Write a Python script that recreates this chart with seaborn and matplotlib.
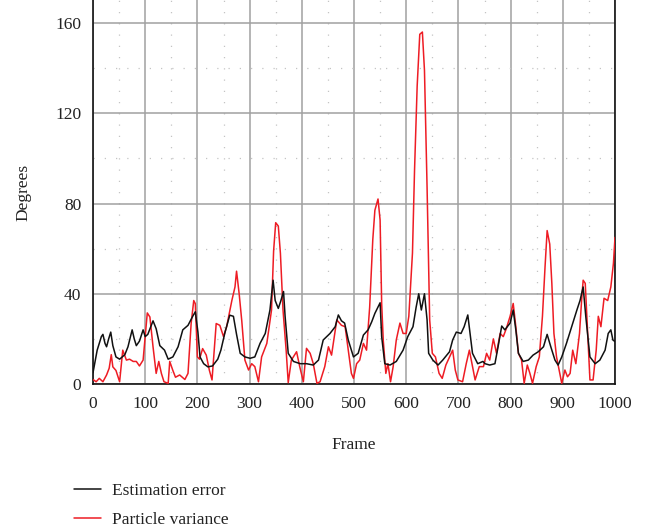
import numpy as np
import pandas as pd
import matplotlib
matplotlib.use("Agg")
import matplotlib.pyplot as plt
from matplotlib.ticker import MultipleLocator
import seaborn as sns

# ---- data ----
err_frames = [0, 8, 16, 19, 23, 26, 30, 34, 38, 44, 51, 56, 61, 67, 75, 79, 83, 89, 96, 100,
              105, 110, 115, 121, 128, 137, 144, 153, 163, 172, 182, 191, 196, 201, 205, 212,
              220, 229, 239, 245, 253, 262, 269, 275, 282, 291, 301, 310, 320, 330, 339, 345,
              349, 355, 360, 365, 368, 374, 384, 397, 409, 422, 432, 441, 454, 464, 470, 476,
              482, 489, 495, 499, 508, 518, 527, 534, 540, 550, 553, 559, 569, 581, 594, 603,
              613, 619, 624, 629, 635, 640, 643, 651, 661, 670, 683, 689, 696, 705, 711, 718,
              722, 727, 737, 747, 751, 760, 770, 776, 783, 789, 799, 805, 810, 815, 824, 834,
              843, 853, 863, 870, 877, 885, 891, 898, 907, 917, 927, 933, 939, 944, 952, 962,
              971, 981, 987, 992, 996, 1000]
err_values = [5, 15, 21, 22, 18, 16.5, 20, 23, 17, 12, 11, 12, 13, 16.5, 24, 20, 17, 19, 24, 21,
              22, 25, 28, 24.5, 17, 15, 11, 12, 16.5, 24, 26, 30, 32, 23, 12, 9,
              7.6, 8, 11, 15, 23, 30.5, 30, 22, 13.6, 12, 11.4, 12, 18, 22.4, 32.8, 46,
              37, 33.5, 37, 41, 30, 13.6, 10, 9, 9, 8.4, 10.6, 19.5, 22.4, 25.4, 30.6, 28,
              27, 19.5, 15, 12, 13.6, 21.7, 24, 27.6, 31.3, 36, 21, 9, 8.4, 10, 15, 21,
              25.4, 34, 40, 32.8, 40, 28.4, 13.6, 10.6, 8.4, 10.6, 14.3, 19.5, 23, 22.4, 25.4, 30.6,
              23, 13.6, 9, 10, 9, 8.4, 9, 16.5, 25.7, 24, 27, 32.8, 24, 13.6, 10, 10.6,
              12.8, 14.3, 16.5, 22, 16.5, 10.6, 8.4, 12, 18, 25.4, 32.8, 37, 43, 30, 12, 9,
              10.6, 15, 22.4, 24, 19.5, 18.8]

var_frames = [0, 6, 12, 19, 26, 31, 35, 38, 44, 51, 57, 64, 70, 77, 83, 89, 96, 100, 104, 109,
              115, 121, 126, 131, 136, 144, 147, 153, 158, 166, 176, 182, 188, 193, 196, 200,
              204, 210, 217, 223, 228, 236, 243, 250, 256, 266, 272, 275, 280, 285, 291, 298,
              304, 310, 317, 323, 333, 342, 346, 350, 355, 359, 364, 370, 374, 380, 390, 396,
              403, 409, 416, 422, 429, 435, 444, 451, 457, 467, 476, 483, 489, 495, 499, 505,
              511, 518, 524, 530, 536, 540, 546, 550, 553, 556, 561, 565, 570, 575, 581, 588,
              594, 600, 605, 612, 616, 621, 626, 631, 635, 640, 645, 650, 656, 663, 669, 676,
              683, 689, 694, 699, 708, 715, 721, 727, 732, 740, 748, 754, 760, 767, 773, 780,
              786, 792, 799, 805, 810, 815, 821, 826, 832, 837, 842, 849, 855, 861, 866, 870,
              875, 879, 883, 888, 893, 898, 904, 909, 914, 919, 925, 932, 936, 939, 943, 947,
              952, 958, 964, 968, 973, 979, 986, 992, 997, 1000]
var_values = [2, 1, 2.5, 1, 4, 7, 13, 7.6, 6, 1, 15, 10.6, 11, 10, 10, 8, 10.6, 21, 31.5, 29.7,
              16.5, 4.7, 10, 4.7, 1, 0.3, 10, 6, 3, 4, 2, 4.7, 26.8, 37, 35.6, 12,
              11, 15.7, 12.8, 6, 1.8, 26.8, 26, 21, 25.4, 37, 43, 50, 40, 28, 10.6, 6.2,
              9, 7.7, 1, 12, 18, 32.8, 59, 71.5, 70, 58, 32.8, 15, 0.6, 10.6, 14.3, 7.7,
              1, 15.8, 13.6, 9, 0.3, 1, 7.7, 16.5, 12.8, 28.4, 26, 25.4, 15, 4.7, 2.5, 9,
              10.6, 18, 15, 34, 64, 77, 82, 72.7, 35.7, 19.5, 4.7, 9, 1, 7.7, 19.5, 27,
              22.4, 22.4, 30, 58, 95, 132, 155, 156, 139, 87, 28.4, 13.6, 12, 4.7, 2.5, 8.4,
              12, 15, 6.2, 1.8, 1, 9, 15, 7.7, 1.8, 7.7, 7.7, 13.6, 10.6, 20, 13.6, 22.4,
              21, 24.7, 30, 35.7, 25.4, 13.6, 10.6, 0.3, 8.4, 4.7, 0.3, 7.7, 12, 30, 52, 68,
              62, 44.6, 22.4, 12, 6.2, 0.3, 6.2, 3.2, 4.7, 15, 9, 22.4, 37, 46, 44.6, 25.4,
              1.8, 1.8, 15, 30, 25.4, 38, 37, 43, 53.5, 65]

x_ticks = [0, 100, 200, 300, 400, 500, 600, 700, 800, 900, 1000]
y_ticks = [0, 40, 80, 120, 160]
series_labels = ["Estimation error", "Particle variance"]
series_colors = ["#111111", "#ee1c24"]

# ---- plot ----
sns.set_style("white")
plt.rcParams["font.family"] = ["Liberation Serif", "DejaVu Serif"]
TXT = "#222222"

fig = plt.figure(figsize=(6.62, 5.31), dpi=100)
ax = fig.add_axes([93 / 662, 1 - 384 / 531, (615 - 93) / 662, 384 / 531])

df_err = pd.DataFrame({"Frame": err_frames, "Degrees": err_values})
df_var = pd.DataFrame({"Frame": var_frames, "Degrees": var_values})
sns.lineplot(data=df_err, x="Frame", y="Degrees", ax=ax, color=series_colors[0],
             lw=1.1, label=series_labels[0], zorder=4, legend=False)
sns.lineplot(data=df_var, x="Frame", y="Degrees", ax=ax, color=series_colors[1],
             lw=1.1, label=series_labels[1], zorder=3, legend=False)

ax.set_xlim(0, 1000)
ax.set_ylim(0, 170.2)
ax.set_xticks(x_ticks)
ax.set_yticks(y_ticks)
ax.xaxis.set_minor_locator(MultipleLocator(50))
ax.yaxis.set_minor_locator(MultipleLocator(20))

ax.grid(which="major", color="#a0a0a0", lw=1.1, ls="-")
ax.grid(which="minor", color="#c4c4c4", lw=0.9, ls=(0, (1, 8)))
ax.set_axisbelow(True)

for s in ["left", "bottom", "right"]:
    ax.spines[s].set_visible(True)
    ax.spines[s].set_color("#111111")
    ax.spines[s].set_linewidth(1.2)
ax.spines["top"].set_visible(False)

ax.tick_params(which="major", direction="inout", length=9, width=1.1, color="#111111",
               labelsize=12.5, labelcolor=TXT, pad=4, right=False, top=False)
ax.tick_params(which="minor", direction="out", length=4, width=1.0, color="#111111",
               right=False, top=False)

ax.set_xlabel("Frame", fontsize=12.5, color=TXT, labelpad=18)
ax.set_ylabel("Degrees", fontsize=12.5, color=TXT, labelpad=17)

handles, labels = ax.get_legend_handles_labels()
fig.legend(handles, labels, loc="upper left", bbox_to_anchor=(58 / 662, 1 - 467 / 531),
           frameon=False, fontsize=12.5, handlelength=1.6, handletextpad=0.6,
           labelspacing=0.75, labelcolor=TXT)

fig.savefig("out.png", dpi=100)
